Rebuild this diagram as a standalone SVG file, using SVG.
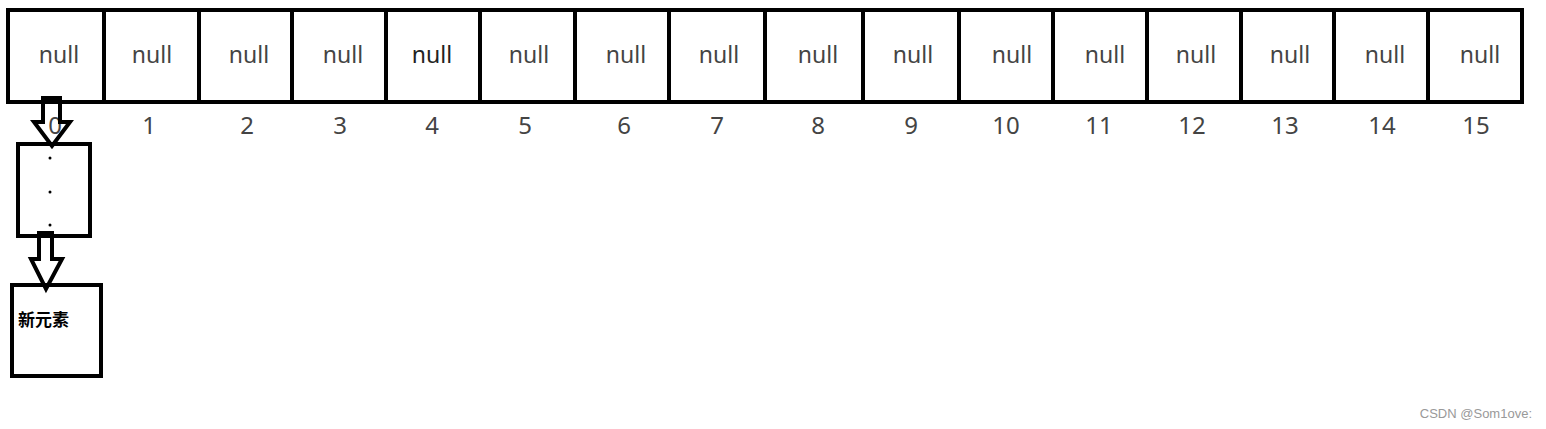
<svg xmlns="http://www.w3.org/2000/svg" width="1546" height="429" viewBox="0 0 1546 429">
<style>
.cell{fill:#fff;stroke:#000;stroke-width:4}
.nul{font-family:"Noto Sans","Open Sans",sans-serif;font-size:23px;fill:#444;text-anchor:middle}
.idx{font-family:"Noto Sans","Open Sans",sans-serif;font-size:24px;fill:#444;text-anchor:middle}
.box{fill:#fff;stroke:#000;stroke-width:4}
.arr{fill:none;stroke:#000;stroke-width:4;stroke-linejoin:miter}
</style>
<rect width="1546" height="429" fill="#fff"/>
<g id="array">
<rect class="cell" x="8" y="10" width="1514" height="92"/>
<path d="M104 10V102M199 10V102M292 10V102M386 10V102M480 10V102M575 10V102M669 10V102M765 10V102M863 10V102M959 10V102M1053 10V102M1147 10V102M1241 10V102M1334 10V102M1428 10V102" stroke="#000" stroke-width="4"/>
<g>
<text class="nul" x="59" y="63">null</text>
<text class="nul" x="152" y="63">null</text>
<text class="nul" x="249" y="63">null</text>
<text class="nul" x="343" y="63">null</text>
<text class="nul" x="432" y="63" style="fill:#222">null</text>
<text class="nul" x="529" y="63">null</text>
<text class="nul" x="626" y="63">null</text>
<text class="nul" x="719" y="63">null</text>
<text class="nul" x="818" y="63">null</text>
<text class="nul" x="913" y="63">null</text>
<text class="nul" x="1012" y="63">null</text>
<text class="nul" x="1105" y="63">null</text>
<text class="nul" x="1196" y="63">null</text>
<text class="nul" x="1290" y="63">null</text>
<text class="nul" x="1385" y="63">null</text>
<text class="nul" x="1480" y="63">null</text>
</g>
<g>
<text class="idx" x="55" y="134">0</text>
<text class="idx" x="149" y="134">1</text>
<text class="idx" x="247" y="134">2</text>
<text class="idx" x="340" y="134">3</text>
<text class="idx" x="432" y="134">4</text>
<text class="idx" x="525" y="134">5</text>
<text class="idx" x="624" y="134">6</text>
<text class="idx" x="717" y="134">7</text>
<text class="idx" x="818" y="134">8</text>
<text class="idx" x="911" y="134">9</text>
<text class="idx" x="1006" y="134">10</text>
<text class="idx" x="1099" y="134">11</text>
<text class="idx" x="1192" y="134">12</text>
<text class="idx" x="1285" y="134">13</text>
<text class="idx" x="1382" y="134">14</text>
<text class="idx" x="1476" y="134">15</text>
</g>
</g>
<g id="node-dots">
<rect class="box" x="18" y="144" width="72" height="92"/>
<circle cx="50" cy="158" r="1.5" fill="#000"/>
<circle cx="50" cy="192" r="1.5" fill="#000"/>
<circle cx="50" cy="225" r="1.5" fill="#000"/>
</g>
<g id="node-new">
<rect class="box" x="12" y="285" width="89" height="91"/>
<text x="18" y="326" font-family="'Noto Sans CJK SC',sans-serif" font-size="17" font-weight="bold" fill="#000">新元素</text>
</g>
<g id="connectors">
<path class="arr" d="M43 98H60V122H70L52 146L34 122H43Z"/>
<path class="arr" d="M39 233H52V259H62L46 289L31 259H39Z"/>
</g>
<text x="1532" y="418" font-family="'Liberation Sans',sans-serif" font-size="13" fill="#999" text-anchor="end">CSDN @Som1ove:</text>
</svg>
